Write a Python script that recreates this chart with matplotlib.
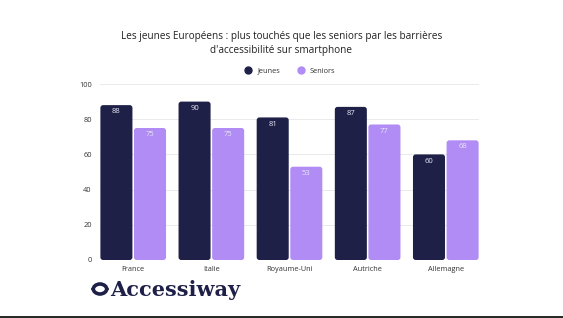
import matplotlib
matplotlib.use("Agg")
import matplotlib.pyplot as plt
from matplotlib.patches import FancyBboxPatch, Arc
from matplotlib.lines import Line2D

categories = ["France", "Italie", "Royaume-Uni", "Autriche", "Allemagne"]
jeunes = [88, 90, 81, 87, 60]
seniors = [75, 75, 53, 77, 68]
series_names = ["Jeunes", "Seniors"]
yticks = [0, 20, 40, 60, 80, 100]

dark = "#1f2048"
light = "#b08cf4"
txt = "#333333"

plt.rcParams['font.family'] = ['Open Sans', 'DejaVu Sans']

fig = plt.figure(figsize=(5.63, 3.18), dpi=100)
ax = fig.add_axes([100/563, 58/318, 379/563, 176/318])

w = 0.41
off = 0.215
xs = list(range(len(categories)))
for vals, color, d in [(jeunes, dark, -off), (seniors, light, off)]:
    bars = ax.bar([x + d for x in xs], vals, width=w, color=color, zorder=3)
    for b, v in zip(bars, vals):
        b.set_visible(False)
        x0, y0 = b.get_x(), b.get_y()
        bw, bh = b.get_width(), b.get_height()
        p = FancyBboxPatch((x0, y0), bw, bh,
                           boxstyle="round,pad=0,rounding_size=0.035",
                           mutation_aspect=44,
                           facecolor=color, edgecolor="none", zorder=3)
        ax.add_patch(p)
        ax.text(x0 + bw/2, v - 1.8, str(v), ha="center", va="top",
                fontsize=5.5, color="#e8e6f5", zorder=4)

ax.set_xlim(-0.425, 4.425)
ax.set_ylim(0, 100)
ax.set_yticks(yticks)
ax.set_yticklabels([str(t) for t in yticks], fontsize=5.3, color=txt)
ax.set_xticks(xs)
ax.set_xticklabels(categories, fontsize=5.3, color=txt)
ax.tick_params(length=0, pad=4)
ax.tick_params(axis='y', pad=6)
ax.grid(axis='y', color="#e6e6e6", linewidth=0.6, zorder=0)
for s in ax.spines.values():
    s.set_visible(False)

fig.text(0.5, 1 - 37/318, "Les jeunes Européens : plus touchés que les seniors par les barrières",
         ha="center", va="center", fontsize=7.2, color="#222222")
fig.text(0.5, 1 - 51/318, "d'accessibilité sur smartphone",
         ha="center", va="center", fontsize=7.2, color="#222222")

handles = [Line2D([], [], marker='o', linestyle='none', markersize=5, color=dark),
           Line2D([], [], marker='o', linestyle='none', markersize=5, color=light)]
fig.legend(handles, series_names, loc="center", bbox_to_anchor=(288/563, 1 - 71/318),
           ncol=2, frameon=False, fontsize=5.3, handletextpad=0.2, columnspacing=1.8,
           labelcolor=txt)

# Logo
lax = fig.add_axes([0, 0, 1, 1], zorder=-1)
lax.set_xlim(0, 563)
lax.set_ylim(318, 0)
lax.axis("off")
lax.add_patch(Arc((100, 288), 14, 12, theta1=0, theta2=180, linewidth=2.6, color=dark,
                  capstyle="butt"))
lax.add_patch(Arc((100, 290), 14, 12, theta1=180, theta2=360, linewidth=2.6, color=dark,
                  capstyle="butt"))
lax.text(110, 296.5, "Accessiway", fontsize=15, fontweight="bold", family="DejaVu Serif",
         color=dark, ha="left", va="baseline")
lax.plot([0, 563], [316.5, 316.5], color="black", linewidth=1.2)

fig.savefig("out.png", dpi=100)
